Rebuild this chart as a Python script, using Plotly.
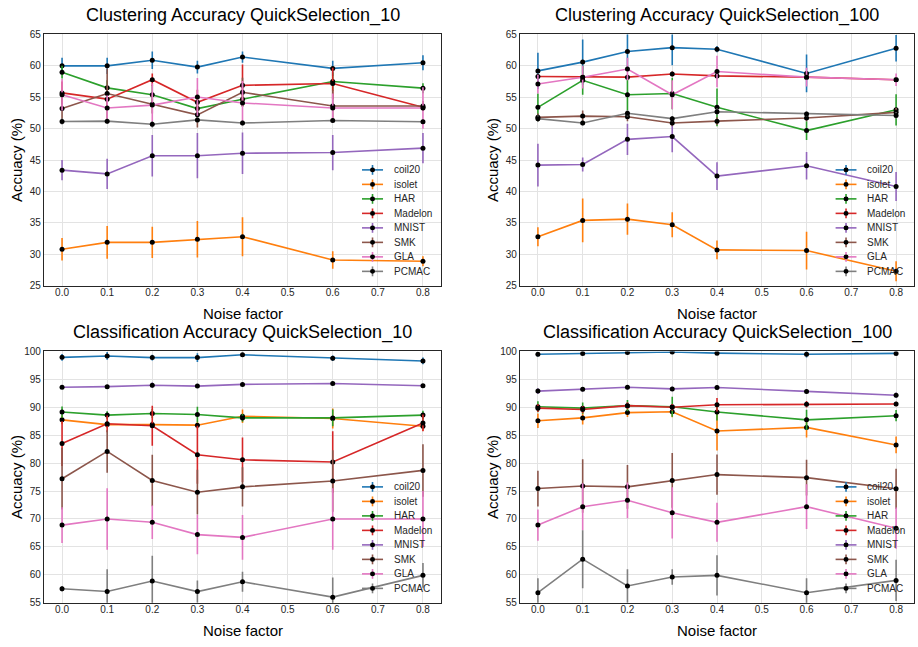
import plotly.graph_objects as go

# Noise factors evaluated
noise = [0.0, 0.1, 0.2, 0.3, 0.4, 0.6, 0.8]

datasets = ["coil20", "isolet", "HAR", "Madelon", "MNIST", "SMK", "GLA", "PCMAC"]
colors = ["#1f77b4", "#ff7f0e", "#2ca02c", "#d62728", "#9467bd", "#8c564b", "#e377c2", "#7f7f7f"]

# Clustering accuracy, QuickSelection_10 (mean, std)
clu10_coil20 = [60.0, 60.0, 60.9, 59.8, 61.4, 59.6, 60.5]
clu10_isolet = [30.8, 31.9, 31.9, 32.4, 32.8, 29.1, 28.9]
clu10_har = [59.0, 56.5, 55.4, 53.2, 54.7, 57.5, 56.45]
clu10_madelon = [55.7, 54.7, 57.8, 54.2, 56.9, 57.2, 53.4]
clu10_mnist = [43.4, 42.8, 45.7, 45.7, 46.1, 46.2, 46.9]
clu10_smk = [53.2, 55.6, 53.9, 52.2, 55.8, 53.6, 53.6]
clu10_gla = [55.4, 53.3, 53.75, 55.05, 54.1, 53.3, 53.3]
clu10_pcmac = [51.15, 51.2, 50.7, 51.4, 50.9, 51.3, 51.1]
clu10_coil20_sd = [1.3, 1.3, 1.4, 1.0, 0.9, 1.2, 1.2]
clu10_isolet_sd = [1.8, 2.6, 2.5, 2.9, 3.1, 1.4, 0.8]
clu10_har_sd = [1.0, 1.2, 1.5, 1.5, 1.2, 1.5, 0.8]
clu10_madelon_sd = [1.8, 1.3, 1.0, 2.0, 3.3, 2.5, 0.6]
clu10_mnist_sd = [1.6, 2.4, 3.3, 3.6, 3.3, 2.8, 2.4]
clu10_smk_sd = [2.0, 4.0, 1.5, 2.0, 2.3, 2.5, 0.8]
clu10_gla_sd = [2.5, 2.0, 3.5, 3.0, 3.5, 2.3, 3.3]
clu10_pcmac_sd = [0.5, 0.4, 0.5, 0.4, 0.4, 0.3, 0.3]

# Clustering accuracy, QuickSelection_100
clu100_coil20 = [59.2, 60.6, 62.3, 62.9, 62.65, 58.8, 62.8]
clu100_isolet = [32.8, 35.4, 35.6, 34.7, 30.7, 30.6, 27.3]
clu100_har = [53.4, 57.7, 55.4, 55.6, 53.4, 49.7, 53.0]
clu100_madelon = [58.3, 58.2, 58.2, 58.7, 58.4, 58.2, 57.8]
clu100_mnist = [44.2, 44.3, 48.3, 48.75, 42.45, 44.1, 40.8]
clu100_smk = [51.8, 52.0, 51.9, 50.9, 51.2, 51.7, 52.6]
clu100_gla = [57.1, 58.2, 59.5, 55.4, 59.1, 58.2, 57.8]
clu100_pcmac = [51.6, 50.9, 52.45, 51.6, 52.7, 52.35, 52.1]
clu100_coil20_sd = [2.9, 3.6, 3.0, 2.8, 0.5, 3.0, 2.1]
clu100_isolet_sd = [1.5, 3.5, 2.5, 2.0, 1.5, 3.0, 1.6]
clu100_har_sd = [2.2, 2.3, 2.5, 2.5, 3.0, 1.5, 2.5]
clu100_madelon_sd = [0.4, 0.4, 0.4, 0.4, 0.4, 0.4, 0.3]
clu100_mnist_sd = [3.4, 1.1, 2.5, 2.5, 2.2, 2.2, 2.3]
clu100_smk_sd = [0.6, 0.9, 0.7, 0.5, 0.6, 0.5, 0.7]
clu100_gla_sd = [1.5, 1.8, 1.8, 2.3, 2.5, 1.5, 1.0]
clu100_pcmac_sd = [0.5, 0.4, 0.5, 0.4, 0.5, 0.4, 0.5]

# Classification accuracy, QuickSelection_10
cls10_coil20 = [98.95, 99.2, 98.9, 98.9, 99.4, 98.8, 98.3]
cls10_isolet = [87.75, 86.9, 86.9, 86.8, 88.4, 88.0, 86.6]
cls10_har = [89.15, 88.6, 88.9, 88.7, 88.1, 88.1, 88.6]
cls10_madelon = [83.5, 87.05, 86.7, 81.5, 80.6, 80.2, 87.2]
cls10_mnist = [93.6, 93.7, 93.95, 93.8, 94.1, 94.25, 93.85]
cls10_smk = [77.2, 82.1, 76.9, 74.8, 75.75, 76.8, 78.7]
cls10_gla = [68.9, 70.0, 69.4, 67.2, 66.7, 70.0, 70.0]
cls10_pcmac = [57.5, 57.0, 58.9, 57.0, 58.75, 56.0, 59.9]
cls10_coil20_sd = [0.6, 0.7, 0.5, 0.8, 0.3, 0.5, 0.6]
cls10_isolet_sd = [0.8, 0.6, 0.6, 0.6, 1.2, 1.8, 0.8]
cls10_har_sd = [1.0, 0.7, 0.8, 1.4, 0.7, 1.5, 0.8]
cls10_madelon_sd = [4.0, 1.5, 3.6, 5.2, 4.0, 5.5, 1.5]
cls10_mnist_sd = [0.3, 0.3, 0.5, 0.3, 0.3, 0.3, 0.3]
cls10_smk_sd = [5.5, 3.8, 4.6, 4.0, 3.5, 5.5, 4.7]
cls10_gla_sd = [3.2, 5.5, 3.0, 3.5, 4.0, 5.5, 5.0]
cls10_pcmac_sd = [0.5, 4.0, 4.5, 2.0, 1.8, 3.5, 2.2]

# Classification accuracy, QuickSelection_100
cls100_coil20 = [99.5, 99.65, 99.8, 99.9, 99.7, 99.5, 99.65]
cls100_isolet = [87.6, 88.1, 89.05, 89.2, 85.75, 86.4, 83.25]
cls100_har = [90.1, 89.85, 90.3, 90.1, 89.15, 87.75, 88.5]
cls100_madelon = [89.85, 89.6, 90.3, 90.0, 90.45, 90.55, 90.6]
cls100_mnist = [92.9, 93.25, 93.6, 93.3, 93.55, 92.85, 92.15]
cls100_smk = [75.45, 75.9, 75.75, 76.9, 77.95, 77.4, 75.4]
cls100_gla = [68.9, 72.2, 73.35, 71.1, 69.4, 72.2, 68.35]
cls100_pcmac = [56.8, 62.8, 58.0, 59.6, 59.9, 56.8, 59.0]
cls100_coil20_sd = [0.4, 0.3, 0.3, 0.3, 0.3, 0.6, 0.3]
cls100_isolet_sd = [1.3, 1.2, 0.8, 1.0, 3.5, 1.8, 1.5]
cls100_har_sd = [1.0, 1.0, 1.0, 1.8, 1.5, 1.8, 1.0]
cls100_madelon_sd = [0.7, 0.6, 0.6, 0.6, 1.2, 0.6, 0.4]
cls100_mnist_sd = [0.5, 0.4, 0.4, 0.4, 0.4, 0.4, 0.5]
cls100_smk_sd = [3.2, 4.8, 3.9, 4.9, 3.6, 3.2, 3.6]
cls100_gla_sd = [2.8, 4.2, 3.2, 4.6, 3.5, 4.0, 3.7]
cls100_pcmac_sd = [2.6, 5.2, 3.0, 1.4, 3.6, 2.6, 3.7]

panels = [
    dict(title="Clustering Accuracy QuickSelection_10", yrange=[25, 65], ytick=list(range(25, 66, 5)),
         means=[clu10_coil20, clu10_isolet, clu10_har, clu10_madelon, clu10_mnist, clu10_smk, clu10_gla, clu10_pcmac],
         sds=[clu10_coil20_sd, clu10_isolet_sd, clu10_har_sd, clu10_madelon_sd, clu10_mnist_sd, clu10_smk_sd, clu10_gla_sd, clu10_pcmac_sd]),
    dict(title="Clustering Accuracy QuickSelection_100", yrange=[25, 65], ytick=list(range(25, 66, 5)),
         means=[clu100_coil20, clu100_isolet, clu100_har, clu100_madelon, clu100_mnist, clu100_smk, clu100_gla, clu100_pcmac],
         sds=[clu100_coil20_sd, clu100_isolet_sd, clu100_har_sd, clu100_madelon_sd, clu100_mnist_sd, clu100_smk_sd, clu100_gla_sd, clu100_pcmac_sd]),
    dict(title="Classification Accuracy QuickSelection_10", yrange=[55, 100], ytick=list(range(55, 101, 5)),
         means=[cls10_coil20, cls10_isolet, cls10_har, cls10_madelon, cls10_mnist, cls10_smk, cls10_gla, cls10_pcmac],
         sds=[cls10_coil20_sd, cls10_isolet_sd, cls10_har_sd, cls10_madelon_sd, cls10_mnist_sd, cls10_smk_sd, cls10_gla_sd, cls10_pcmac_sd]),
    dict(title="Classification Accuracy QuickSelection_100", yrange=[55, 100], ytick=list(range(55, 101, 5)),
         means=[cls100_coil20, cls100_isolet, cls100_har, cls100_madelon, cls100_mnist, cls100_smk, cls100_gla, cls100_pcmac],
         sds=[cls100_coil20_sd, cls100_isolet_sd, cls100_har_sd, cls100_madelon_sd, cls100_mnist_sd, cls100_smk_sd, cls100_gla_sd, cls100_pcmac_sd]),
]

W, H = 918, 647
FONT = "Liberation Sans, Arial, sans-serif"
TXT = "#262626"

# Plot-area boxes in pixels: (left, right, top, bottom)
boxes = [(44, 441, 29, 285), (520, 914, 29, 285), (44, 441, 352, 608), (520, 914, 352, 608)]

fig = go.Figure()
layout = dict(
    width=W, height=H, margin=dict(l=0, r=0, t=0, b=0),
    paper_bgcolor="white", plot_bgcolor="white", showlegend=False,
    font=dict(family=FONT, color=TXT),
)
shapes, annotations = [], []

for p, (panel, box) in enumerate(zip(panels, boxes)):
    idx = "" if p == 0 else str(p + 1)
    xa, ya = "x" + idx, "y" + idx
    l, r, t, b = box
    common = dict(showline=True, linecolor="#262626", linewidth=1.3, mirror=True,
                  showgrid=True, gridcolor="#e3e3e3", gridwidth=1, zeroline=False,
                  ticks="", tickfont=dict(size=10, color=TXT, family=FONT))
    layout["xaxis" + idx] = dict(domain=[l / W, r / W], anchor=ya, range=[-0.04, 0.84],
                                 tickvals=[i / 10 for i in range(9)],
                                 ticktext=["%.1f" % (i / 10) for i in range(9)],
                                 ticklabelstandoff=-3, **common)
    layout["yaxis" + idx] = dict(domain=[1 - b / H, 1 - t / H], anchor=xa, range=panel["yrange"],
                                 tickvals=panel["ytick"], **common)

    for name, col, m, sd in zip(datasets, colors, panel["means"], panel["sds"]):
        fig.add_trace(go.Scatter(
            x=noise, y=m, name=name, mode="lines+markers", xaxis=xa, yaxis=ya,
            line=dict(color=col, width=1.6),
            marker=dict(color="black", size=5),
            error_y=dict(type="data", array=sd, visible=True, color=col, thickness=1.6, width=0),
        ))

    cx = (l + r) / 2
    annotations.append(dict(text=panel["title"], x=cx / W, y=1 - (t - 19) / H, xref="paper", yref="paper",
                            showarrow=False, font=dict(size=18, color="black", family=FONT),
                            xanchor="center", yanchor="middle"))
    annotations.append(dict(text="Noise factor", x=cx / W, y=1 - (b + 28) / H, xref="paper", yref="paper",
                            showarrow=False, font=dict(size=15, color="black", family=FONT),
                            xanchor="center", yanchor="middle"))
    annotations.append(dict(text="Accuacy (%)", x=(l - 28) / W, y=1 - (t + b) / 2 / H, xref="paper", yref="paper",
                            showarrow=False, textangle=-90, font=dict(size=15, color="black", family=FONT),
                            xanchor="center", yanchor="middle"))

    # legend in the lower right corner of each panel
    xd, yd = xa + " domain", ya + " domain"
    pw, ph = r - l, b - t
    for k, (name, col) in enumerate(zip(datasets, colors)):
        yk = 0.461 - k * 0.0577
        shapes.append(dict(type="line", xref=xd, yref=yd, x0=0.801, x1=0.854, y0=yk, y1=yk,
                           line=dict(color=col, width=1.6)))
        xm = 0.8275
        shapes.append(dict(type="line", xref=xd, yref=yd, x0=xm, x1=xm, y0=yk - 5 / ph, y1=yk + 5 / ph,
                           line=dict(color=col, width=1.6)))
        shapes.append(dict(type="circle", xref=xd, yref=yd, x0=xm - 2.5 / pw, x1=xm + 2.5 / pw,
                           y0=yk - 2.5 / ph, y1=yk + 2.5 / ph, fillcolor="black", line=dict(width=0)))
        annotations.append(dict(text=name, xref=xd, yref=yd, x=0.876, y=yk, showarrow=False,
                                xanchor="left", yanchor="middle", font=dict(size=10, color=TXT, family=FONT)))

layout["shapes"] = shapes
layout["annotations"] = annotations
fig.update_layout(**layout)
fig.write_html("out.html")
